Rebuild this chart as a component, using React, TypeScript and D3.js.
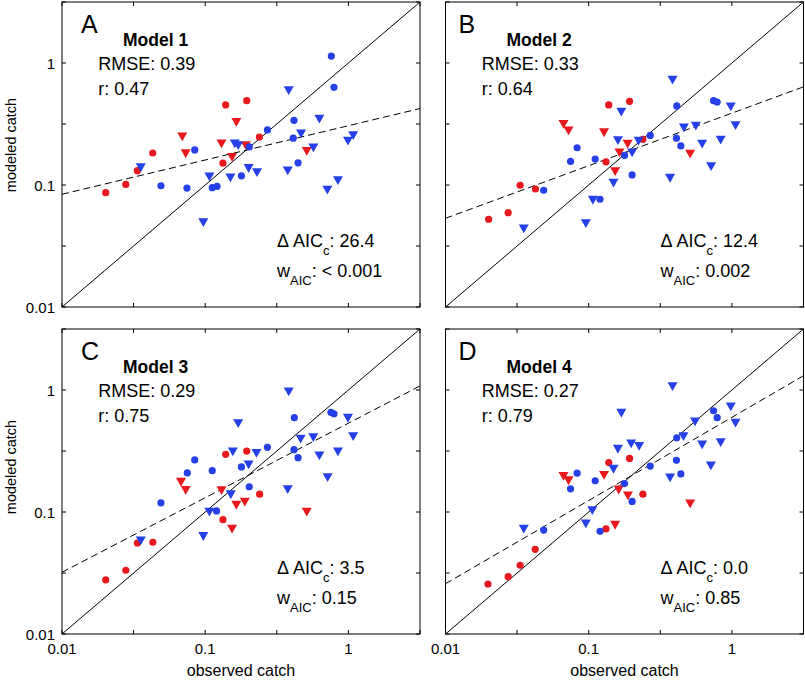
import React from 'react';
import * as d3 from 'd3';

type P = [number, number];

// ---- Data: [observed catch, modeled catch] ----
const m1RedCircle: P[] = [[0.0202, 0.0865], [0.0279, 0.101], [0.0336, 0.131], [0.043, 0.183], [0.139, 0.453], [0.195, 0.491], [0.133, 0.151], [0.239, 0.247]];
const m1RedTri: P[] = [[0.0692, 0.249], [0.0731, 0.181], [0.13, 0.218], [0.165, 0.327], [0.154, 0.169], [0.192, 0.211], [0.512, 0.189]];
const m1BlueCircle: P[] = [[0.0845, 0.194], [0.0491, 0.0986], [0.0746, 0.0944], [0.112, 0.0951], [0.121, 0.0975], [0.179, 0.119], [0.203, 0.205], [0.272, 0.283], [0.417, 0.339], [0.412, 0.242], [0.445, 0.152], [0.76, 1.14], [0.793, 0.632]];
const m1BlueTri: P[] = [[0.0355, 0.139], [0.097, 0.0494], [0.107, 0.117], [0.15, 0.115], [0.161, 0.218], [0.17, 0.211], [0.201, 0.137], [0.23, 0.127], [0.377, 0.131], [0.383, 0.597], [0.467, 0.263], [0.569, 0.202], [0.627, 0.348], [0.713, 0.091], [0.845, 0.109], [0.993, 0.23], [1.08, 0.255]];

const m2RedCircle: P[] = [[0.02, 0.0524], [0.0274, 0.0593], [0.0332, 0.0995], [0.0425, 0.0927], [0.138, 0.453], [0.193, 0.485], [0.132, 0.155], [0.239, 0.237]];
const m2RedTri: P[] = [[0.0667, 0.315], [0.0723, 0.279], [0.128, 0.269], [0.187, 0.217], [0.164, 0.184], [0.153, 0.129], [0.511, 0.18]];
const m2BlueCircle: P[] = [[0.083, 0.202], [0.0747, 0.156], [0.0485, 0.0906], [0.111, 0.163], [0.12, 0.0764], [0.178, 0.175], [0.201, 0.121], [0.269, 0.255], [0.412, 0.445], [0.41, 0.242], [0.44, 0.209], [0.745, 0.491], [0.789, 0.479]];
const m2BlueTri: P[] = [[0.0352, 0.0438], [0.0955, 0.0485], [0.107, 0.0753], [0.149, 0.104], [0.16, 0.232], [0.169, 0.397], [0.201, 0.184], [0.223, 0.23], [0.37, 0.114], [0.385, 0.726], [0.462, 0.295], [0.56, 0.305], [0.62, 0.217], [0.716, 0.142], [0.835, 0.234], [0.982, 0.438], [1.06, 0.308]];

const m3RedCircle: P[] = [[0.0202, 0.0278], [0.0279, 0.0333], [0.0336, 0.0557], [0.0431, 0.0565], [0.139, 0.297], [0.195, 0.316], [0.133, 0.0865], [0.24, 0.14]];
const m3RedTri: P[] = [[0.0678, 0.176], [0.0731, 0.151], [0.13, 0.15], [0.165, 0.114], [0.189, 0.121], [0.154, 0.0726], [0.512, 0.1]];
const m3BlueCircle: P[] = [[0.0845, 0.267], [0.075, 0.209], [0.0491, 0.119], [0.112, 0.218], [0.12, 0.102], [0.179, 0.234], [0.203, 0.161], [0.272, 0.339], [0.419, 0.593], [0.417, 0.324], [0.445, 0.279], [0.755, 0.656], [0.793, 0.639]];
const m3BlueTri: P[] = [[0.0355, 0.0582], [0.097, 0.0632], [0.107, 0.1], [0.151, 0.139], [0.156, 0.312], [0.17, 0.533], [0.201, 0.244], [0.228, 0.303], [0.377, 0.153], [0.383, 0.969], [0.464, 0.397], [0.569, 0.409], [0.627, 0.29], [0.716, 0.192], [0.845, 0.312], [0.993, 0.589], [1.08, 0.417]];

const m4RedCircle: P[] = [[0.0198, 0.0257], [0.0274, 0.0295], [0.0332, 0.0366], [0.0423, 0.0494], [0.138, 0.254], [0.193, 0.275], [0.132, 0.0726], [0.239, 0.14]];
const m4RedTri: P[] = [[0.0667, 0.197], [0.0723, 0.181], [0.128, 0.2], [0.162, 0.152], [0.188, 0.136], [0.153, 0.0782], [0.511, 0.117]];
const m4BlueCircle: P[] = [[0.083, 0.208], [0.0747, 0.155], [0.0485, 0.0711], [0.111, 0.18], [0.12, 0.0695], [0.178, 0.171], [0.201, 0.122], [0.269, 0.238], [0.412, 0.406], [0.41, 0.265], [0.44, 0.205], [0.745, 0.676], [0.789, 0.593]];
const m4BlueTri: P[] = [[0.0352, 0.0726], [0.0955, 0.0802], [0.106, 0.103], [0.149, 0.225], [0.16, 0.328], [0.169, 0.647], [0.198, 0.363], [0.225, 0.346], [0.37, 0.191], [0.385, 1.07], [0.459, 0.417], [0.553, 0.55], [0.62, 0.356], [0.713, 0.24], [0.835, 0.372], [0.982, 0.73], [1.06, 0.537]];

// regression fits in log10 space: log10(y) = intercept + slope * log10(x)
const fitSlope = [0.281, 0.431, 0.611, 0.682];
const fitIntercept = [-0.514, -0.411, -0.272, -0.224];

const panelLetters = ['A', 'B', 'C', 'D'];
const modelNames = ['Model 1', 'Model 2', 'Model 3', 'Model 4'];
const rmseValues = ['0.39', '0.33', '0.29', '0.27'];
const rValues = ['0.47', '0.64', '0.75', '0.79'];
const dAicValues = ['26.4', '12.4', '3.5', '0.0'];
const wAicValues = ['< 0.001', '0.002', '0.15', '0.85'];

const axisMin = 0.01;
const axisMax = 3.1623;
const tickValues = [0.01, 0.0316, 0.1, 0.316, 1, 3.1623];
const tickLabelValues = [0.01, 0.1, 1];
const tickLabels = ['0.01', '0.1', '1'];

const RED = '#e8191c';
const BLUE = '#2440e6';
const FONT = '"Liberation Sans", Arial, Helvetica, sans-serif';

const series = [
  { rc: m1RedCircle, rt: m1RedTri, bc: m1BlueCircle, bt: m1BlueTri },
  { rc: m2RedCircle, rt: m2RedTri, bc: m2BlueCircle, bt: m2BlueTri },
  { rc: m3RedCircle, rt: m3RedTri, bc: m3BlueCircle, bt: m3BlueTri },
  { rc: m4RedCircle, rt: m4RedTri, bc: m4BlueCircle, bt: m4BlueTri },
];

const PW = 358;
const PH = 305;
const panelPos = [
  { left: 62, top: 2, letterDx: 19, showY: true, showX: false },
  { left: 445.5, top: 2, letterDx: 13, showY: false, showX: false },
  { left: 62, top: 329, letterDx: 19, showY: true, showX: true },
  { left: 445.5, top: 329, letterDx: 13, showY: false, showX: true },
];

const triPath = 'M-5,-4.2L5,-4.2L0,4.6Z';

function Panel({ i }: { i: number }) {
  const pos = panelPos[i];
  const x = d3.scaleLog().domain([axisMin, axisMax]).range([0, PW]);
  const y = d3.scaleLog().domain([axisMin, axisMax]).range([PH, 0]);
  const s = series[i];
  const fitLine = d3
    .line<number>()
    .x((v) => x(v))
    .y((v) => y(Math.pow(10, fitIntercept[i] + fitSlope[i] * Math.log10(v))));
  const idLine = d3.line<number>().x((v) => x(v)).y((v) => y(v));
  const ends = [axisMin, axisMax];
  const clipId = `clip${i}`;
  const tl = 4;
  return (
    <g transform={`translate(${pos.left},${pos.top})`}>
      <defs>
        <clipPath id={clipId}>
          <rect x={0} y={0} width={PW} height={PH} />
        </clipPath>
      </defs>
      <rect x={0} y={0} width={PW} height={PH} fill="#fff" />
      <g clipPath={`url(#${clipId})`}>
        <path d={idLine(ends) || ''} stroke="#000" strokeWidth={1} fill="none" />
        <path d={fitLine(ends) || ''} stroke="#000" strokeWidth={1} fill="none" strokeDasharray="7,4" />
      </g>
      {/* ticks */}
      {tickValues.map((t, k) => (
        <g key={'t' + k}>
          <line x1={x(t)} x2={x(t)} y1={PH} y2={PH - tl} stroke="#000" />
          <line x1={x(t)} x2={x(t)} y1={0} y2={tl} stroke="#000" />
          <line x1={0} x2={tl} y1={y(t)} y2={y(t)} stroke="#000" />
          <line x1={PW} x2={PW - tl} y1={y(t)} y2={y(t)} stroke="#000" />
        </g>
      ))}
      <rect x={0} y={0} width={PW} height={PH} fill="none" stroke="#000" strokeWidth={1} />
      {pos.showY &&
        tickLabelValues.map((t, k) => (
          <text key={'yl' + k} x={-7} y={y(t)} textAnchor="end" dominantBaseline="central" fontSize={15} fontFamily={FONT}>
            {tickLabels[k]}
          </text>
        ))}
      {pos.showX &&
        tickLabelValues.map((t, k) => (
          <text key={'xl' + k} x={x(t)} y={PH + 20} textAnchor="middle" fontSize={15} fontFamily={FONT}>
            {tickLabels[k]}
          </text>
        ))}
      {/* markers */}
      {s.rc.map((d, k) => (
        <circle key={'rc' + k} cx={x(d[0])} cy={y(d[1])} r={3.6} fill={RED} />
      ))}
      {s.rt.map((d, k) => (
        <path key={'rt' + k} d={triPath} transform={`translate(${x(d[0])},${y(d[1])})`} fill={RED} />
      ))}
      {s.bc.map((d, k) => (
        <circle key={'bc' + k} cx={x(d[0])} cy={y(d[1])} r={3.6} fill={BLUE} />
      ))}
      {s.bt.map((d, k) => (
        <path key={'bt' + k} d={triPath} transform={`translate(${x(d[0])},${y(d[1])})`} fill={BLUE} />
      ))}
      {/* annotations */}
      <text x={pos.letterDx} y={31} fontSize={25} fontFamily={FONT}>{panelLetters[i]}</text>
      <text x={61} y={44} fontSize={17.5} fontWeight="bold" fontFamily={FONT}>{modelNames[i]}</text>
      <text x={36.3} y={68} fontSize={18} fontFamily={FONT}>RMSE: {rmseValues[i]}</text>
      <text x={36.3} y={93} fontSize={18} fontFamily={FONT}>r: {rValues[i]}</text>
      <text x={215} y={245} fontSize={18} fontFamily={FONT}>
        {'\u0394 AIC'}
        <tspan fontSize={13} dy={8}>c</tspan>
        <tspan dy={-8}>{': ' + dAicValues[i]}</tspan>
      </text>
      <text x={215} y={275} fontSize={18} fontFamily={FONT}>
        w
        <tspan fontSize={13} dy={8}>AIC</tspan>
        <tspan dy={-8}>{': ' + wAicValues[i]}</tspan>
      </text>
    </g>
  );
}

export default function App() {
  return (
    <svg width={805} height={680} style={{ position: 'absolute', left: 0, top: 0, background: '#fff' }}>
      <rect x={0} y={0} width={805} height={680} fill="#fff" />
      {[0, 1, 2, 3].map((i) => (
        <Panel key={i} i={i} />
      ))}
      <text transform="translate(16,145) rotate(-90)" textAnchor="middle" fontSize={14.5} fontFamily={FONT}>modeled catch</text>
      <text transform="translate(16,467) rotate(-90)" textAnchor="middle" fontSize={14.5} fontFamily={FONT}>modeled catch</text>
      <text x={241} y={676} textAnchor="middle" fontSize={16} fontFamily={FONT}>observed catch</text>
      <text x={624.5} y={676} textAnchor="middle" fontSize={16} fontFamily={FONT}>observed catch</text>
    </svg>
  );
}
